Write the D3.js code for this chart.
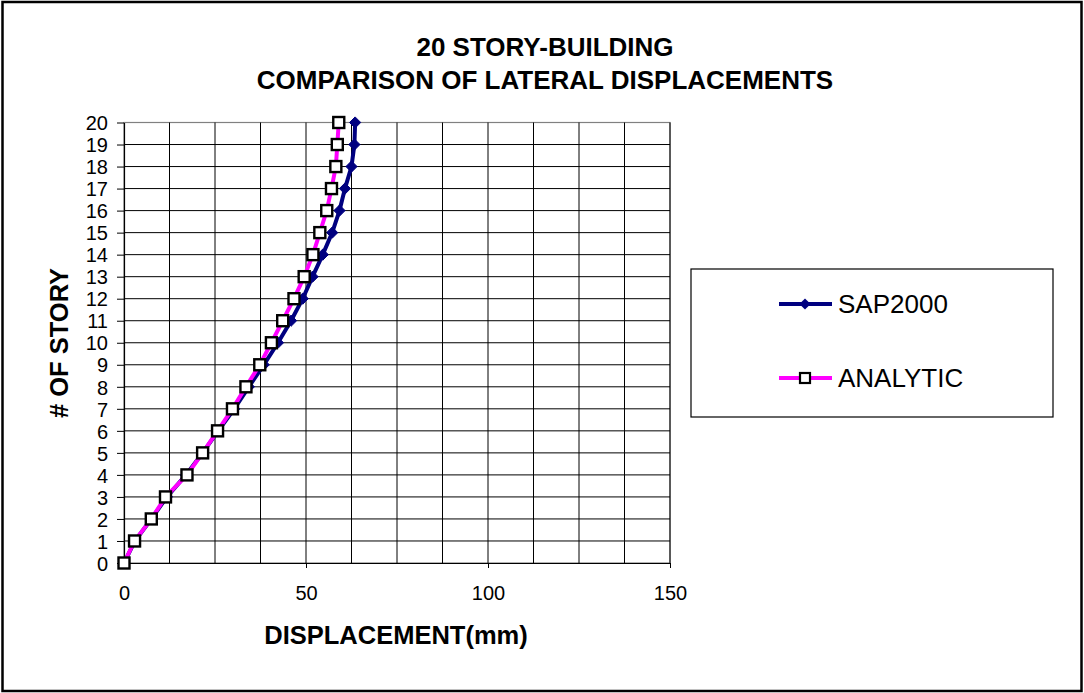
<!DOCTYPE html>
<html><head><meta charset="utf-8">
<script src="https://cdn.jsdelivr.net/npm/d3@7"></script>
<style>
body{margin:0;background:#fff;}
svg{display:block;font-family:Arial,"Liberation Sans",sans-serif;}
</style></head>
<body><svg id="c" width="1084" height="693"></svg>
<script>
const stories = [0,1,2,3,4,5,6,7,8,9,10,11,12,13,14,15,16,17,18,19,20];
const sap2000 = [0,3.0,7.5,11.8,17.0,21.6,25.9,30.3,34.3,38.4,42.3,45.9,49.1,51.8,54.6,57.2,59.2,60.7,62.5,63.3,63.5];
const analytic = [0,2.9,7.5,11.4,17.3,21.6,25.7,29.8,33.5,37.3,40.5,43.6,46.7,49.5,51.9,53.8,55.7,57.0,58.2,58.6,59.0];
const xTicks = [0,50,100,150];
const xGrid = [12.5,25,37.5,50,62.5,75,87.5,100,112.5,125,137.5,150];
const titleLines = ["20 STORY-BUILDING","COMPARISON OF LATERAL DISPLACEMENTS"];
const seriesNames = ["SAP2000","ANALYTIC"];

const svg = d3.select("#c");
svg.append("rect").attr("x",2.5).attr("y",2).attr("width",1079).attr("height",689)
  .attr("fill","#fff").attr("stroke","#000").attr("stroke-width",2.5);

const x = d3.scaleLinear().domain([0,150]).range([124,670]);
const y = d3.scaleLinear().domain([0,20]).range([563,122.5]);

// plot border
svg.append("rect").attr("x",x(0)).attr("y",y(20)).attr("width",x(150)-x(0)).attr("height",y(0)-y(20))
  .attr("fill","#fff").attr("stroke","#808080").attr("stroke-width",1.2);

// grid
svg.append("g").selectAll("line").data(stories.filter(s=>s>0&&s<20)).join("line")
  .attr("x1",x(0)).attr("x2",x(150)).attr("y1",d=>y(d)).attr("y2",d=>y(d))
  .attr("stroke","#000").attr("stroke-width",1);
svg.append("g").selectAll("line").data(xGrid).join("line")
  .attr("x1",d=>x(d)).attr("x2",d=>x(d)).attr("y1",y(0)).attr("y2",y(20))
  .attr("stroke","#000").attr("stroke-width",1);

// axes
const xAxis = svg.append("g").attr("transform",`translate(0,${y(0)})`)
  .call(d3.axisBottom(x).tickValues(xTicks).tickSize(5).tickPadding(18).tickSizeOuter(0));
const yAxis = svg.append("g").attr("transform",`translate(${x(0)},0)`)
  .call(d3.axisLeft(y).tickValues(stories).tickSize(7).tickPadding(9).tickSizeOuter(0));
[xAxis,yAxis].forEach(a=>{
  a.select(".domain").attr("stroke","#000").attr("stroke-width",1.2);
  a.selectAll(".tick line").attr("stroke","#000");
  a.selectAll("text").attr("font-size",20).attr("fill","#000").attr("font-family","Arial,'Liberation Sans',sans-serif");
});
yAxis.selectAll("text").attr("dy","0.36em");

// lines
const line = (vals)=>d3.line().x((d,i)=>x(vals[i])).y(d=>y(d))(stories);
svg.append("path").attr("d",line(sap2000)).attr("fill","none").attr("stroke","#000080").attr("stroke-width",4);
svg.append("g").selectAll("path").data(stories).join("path")
  .attr("d",d3.symbol(d3.symbolDiamond2,80)())
  .attr("transform",(d,i)=>`translate(${x(sap2000[i])},${y(d)})`)
  .attr("fill","#000080").attr("stroke","#000080");
svg.append("path").attr("d",line(analytic)).attr("fill","none").attr("stroke","#ff00ff").attr("stroke-width",4);
svg.append("g").selectAll("rect").data(stories).join("rect")
  .attr("x",(d,i)=>x(analytic[i])-5.5).attr("y",d=>y(d)-5.5).attr("width",11).attr("height",11)
  .attr("fill","#fff").attr("stroke","#000").attr("stroke-width",2.4);

// titles
svg.append("g").selectAll("text").data(titleLines).join("text")
  .attr("x",545).attr("y",(d,i)=>56+i*33).attr("text-anchor","middle")
  .attr("font-size",26).attr("font-weight","bold").text(d=>d);
svg.append("text").attr("x",396).attr("y",644).attr("text-anchor","middle")
  .attr("font-size",25.5).attr("font-weight","bold").text("DISPLACEMENT(mm)");
svg.append("text").attr("transform","translate(68,343) rotate(-90)").attr("text-anchor","middle")
  .attr("font-size",25.5).attr("font-weight","bold").text("# OF STORY");

// legend
svg.append("rect").attr("x",691).attr("y",269).attr("width",362).attr("height",148)
  .attr("fill","#fff").attr("stroke","#000").attr("stroke-width",1.2);
const lg = svg.append("g");
const ly = [304,378];
lg.append("line").attr("x1",779).attr("x2",832).attr("y1",ly[0]).attr("y2",ly[0]).attr("stroke","#000080").attr("stroke-width",4);
lg.append("path").attr("d",d3.symbol(d3.symbolDiamond2,80)()).attr("transform",`translate(805,${ly[0]})`).attr("fill","#000080");
lg.append("line").attr("x1",779).attr("x2",832).attr("y1",ly[1]).attr("y2",ly[1]).attr("stroke","#ff00ff").attr("stroke-width",4);
lg.append("rect").attr("x",800).attr("y",ly[1]-5).attr("width",10).attr("height",10).attr("fill","#fff").attr("stroke","#000").attr("stroke-width",2.2);
lg.selectAll("text").data(seriesNames).join("text")
  .attr("x",838).attr("y",(d,i)=>ly[i]+9).attr("font-size",26).text(d=>d);
</script></body></html>
